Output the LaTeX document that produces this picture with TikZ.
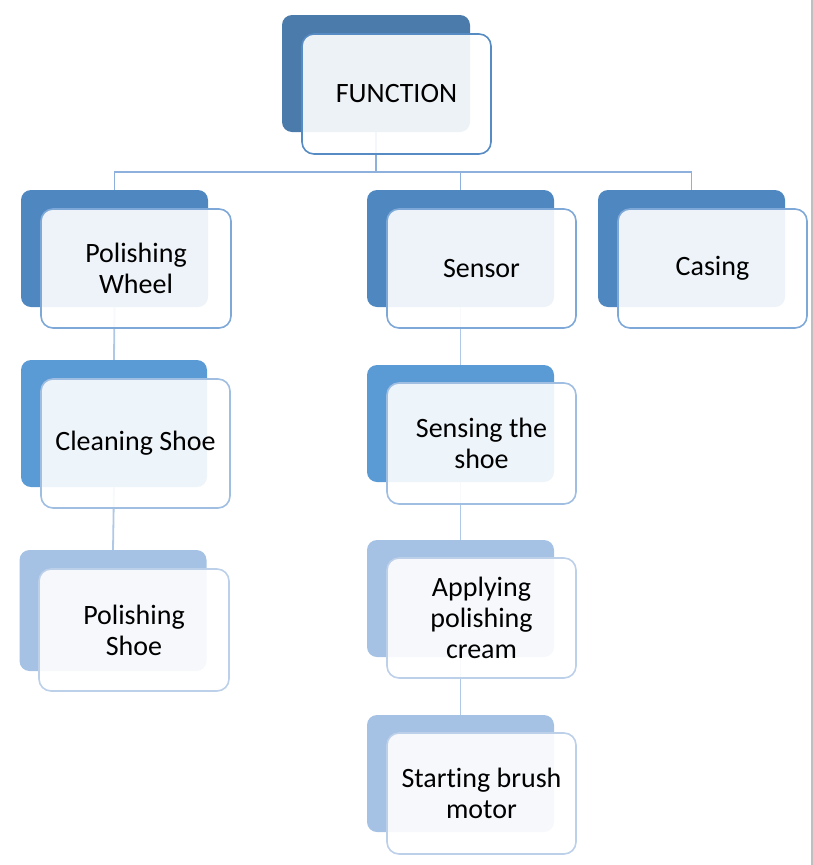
\documentclass[tikz,border=0pt]{standalone}
\usepackage{fontspec}
\setmainfont{Carlito}[Ligatures=NoCommon]
\usepackage{tikz}
\definecolor{topback}{HTML}{4A7BAB}
\definecolor{midback}{HTML}{4F88C0}
\definecolor{lowback}{HTML}{5B9BD5}
\definecolor{paleback}{HTML}{A5C1E3}
\definecolor{topedge}{HTML}{568BC4}
\definecolor{midedge}{HTML}{7EA8D8}
\definecolor{lowedge}{HTML}{A0BEE2}
\definecolor{paleedge}{HTML}{BDD0EA}
\definecolor{topline}{HTML}{8DB1DC}
\definecolor{lowline}{HTML}{AFC8E6}
\def\boxfont{\fontsize{28}{31}\selectfont}
\tikzset{
	backbox/.style={rounded corners=10pt, inner sep=0pt, draw=none},
	frontbox/.style={rounded corners=12pt, fill=white, fill opacity=0.9, text opacity=1, line width=1.6pt, align=center, inner sep=0pt, font=\boxfont},
	link/.style={line width=1.8pt}
}

\begin{document}
\begin{tikzpicture}[x=1pt, y=-1pt]
				\useasboundingbox (0,0) rectangle (813,865);
				
				\node[backbox, fill=topback, minimum width=188, minimum height=117] (fnb) at (376,73.5) {};
				\node[backbox, fill=midback, minimum width=187, minimum height=117] (pwb) at (114.5,248.5) {};
				\node[backbox, fill=midback, minimum width=187, minimum height=117] (seb) at (460.5,248.5) {};
				\node[backbox, fill=midback, minimum width=187, minimum height=117] (cab) at (691.5,248.5) {};
				\node[backbox, fill=lowback, minimum width=186, minimum height=127] (csb) at (114,423.5) {};
				\node[backbox, fill=paleback, minimum width=187, minimum height=121] (psb) at (113,610.5) {};
				\node[backbox, fill=lowback, minimum width=187, minimum height=117] (sgb) at (460.5,423.5) {};
				\node[backbox, fill=paleback, minimum width=187, minimum height=117] (apb) at (460.5,598.5) {};
				\node[backbox, fill=paleback, minimum width=187, minimum height=117] (smb) at (460.5,773.5) {};
				
				\coordinate (bus) at (376,172);
				\draw[link, topline] (fnb.south) -- (bus);
				\draw[link, topline] (pwb.north) |- (bus) -| (cab.north);
				\draw[link, topline] (seb.north) -- (seb.north |- bus);
				\draw[link, lowline] (pwb.south) -- (csb.north);
				\draw[link, lowline] (csb.south) -- (psb.north);
				\draw[link, lowline] (seb.south) -- (sgb.north);
				\draw[link, lowline] (sgb.south) -- (apb.north);
				\draw[link, lowline] (apb.south) -- (smb.north);
				
				\node[frontbox, draw=topedge, minimum width=189, minimum height=120] (fn) at (396.5,94) {FUNCTION};
				\node[frontbox, draw=midedge, minimum width=190, minimum height=119] (pw) at (136,268.5) {Polishing\\Wheel};
				\node[frontbox, draw=midedge, minimum width=189, minimum height=119] (se) at (481.5,268.5) {Sensor};
				\node[frontbox, draw=midedge, minimum width=189, minimum height=119] (ca) at (712.5,268.5) {Casing};
				\node[frontbox, draw=lowedge, minimum width=189, minimum height=129] (cs) at (135.5,443.5) {Cleaning Shoe};
				\node[frontbox, draw=paleedge, minimum width=190, minimum height=122] (ps) at (134,630) {Polishing\\Shoe};
				\node[frontbox, draw=lowedge, minimum width=189, minimum height=121] (sg) at (481.5,443.5) {Sensing the\\shoe};
				\node[frontbox, draw=paleedge, minimum width=189, minimum height=120] (ap) at (481.5,618) {Applying\\polishing\\cream};
				\node[frontbox, draw=paleedge, minimum width=189, minimum height=121] (sm) at (481.5,793.5) {Starting brush\\motor};
				
				\draw[line width=1.5pt, black!25] (812,0) -- (812,865);
			\end{tikzpicture}
\end{document}
